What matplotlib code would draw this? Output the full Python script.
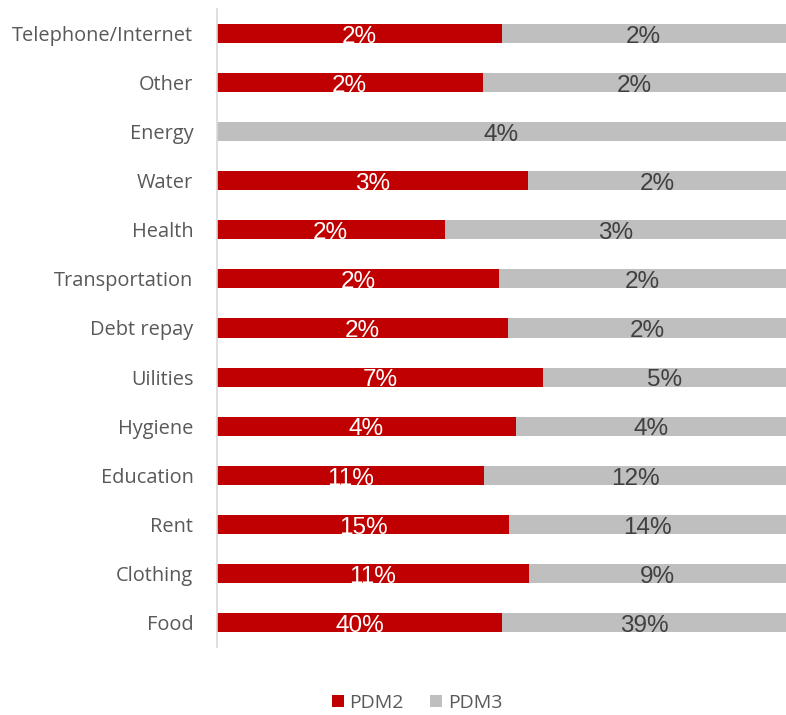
import matplotlib
matplotlib.use("Agg")
import matplotlib.pyplot as plt
import numpy as np

# Share of expenditure by category (percent), bottom to top
categories = ["Food", "Clothing", "Rent", "Education", "Hygiene", "Uilities",
              "Debt repay", "Transportation", "Health", "Water", "Energy",
              "Other", "Telephone/Internet"]
pdm2 = [39.6, 10.9, 15.2, 11.0, 4.2, 7.0, 2.1, 2.0, 2.0, 2.6, 0.0, 1.75, 2.0]
pdm3 = [39.4, 9.0, 14.4, 12.4, 3.8, 5.2, 2.0, 2.03, 3.0, 2.15, 4.0, 2.0, 2.0]

RED = "#c00000"
GREY = "#bfbfbf"
TXT = "#595959"

fig = plt.figure(figsize=(7.86, 7.15), dpi=100)
ax = fig.add_axes([217 / 786, 1 - 647 / 715, 1 - 217 / 786, (647 - 9) / 715])

p2 = np.array(pdm2)
p3 = np.array(pdm3)
tot = p2 + p3
f2 = p2 / tot
f3 = p3 / tot
y = np.arange(len(categories))
h = 0.39

ax.barh(y, f2, height=h, color=RED, label="PDM2")
ax.barh(y, f3, left=f2, height=h, color=GREY, label="PDM3")

for i in range(len(categories)):
    if p2[i] > 0:
        ax.text(f2[i] / 2, y[i] - 0.19, f"{p2[i]:.0f}%", ha="center", va="baseline",
                color="white", fontsize=17.5, family="Liberation Sans")
    ax.text(f2[i] + f3[i] / 2, y[i] - 0.19, f"{p3[i]:.0f}%", ha="center", va="baseline",
            color="#404040", fontsize=17.5, family="Liberation Sans")

ax.set_xlim(0, 1)
ax.set_ylim(-0.5, len(categories) - 0.5)
ax.set_yticks(y)
ax.set_yticklabels(categories, fontsize=14.4, color=TXT, family="Open Sans")
ax.tick_params(axis="y", length=0, pad=17)
ax.set_xticks([])
for s in ["top", "right", "bottom"]:
    ax.spines[s].set_visible(False)
ax.spines["left"].set_color("#d9d9d9")
ax.spines["left"].set_linewidth(1.2)

leg = fig.legend(loc="center", bbox_to_anchor=(417 / 786, 1 - 703 / 715), ncol=2,
                 frameon=False, handlelength=0.6, handleheight=0.6,
                 handletextpad=0.3, columnspacing=1.35,
                 prop={"family": "Open Sans", "size": 14})
for t in leg.get_texts():
    t.set_color(TXT)

fig.savefig("out.png", dpi=100)
